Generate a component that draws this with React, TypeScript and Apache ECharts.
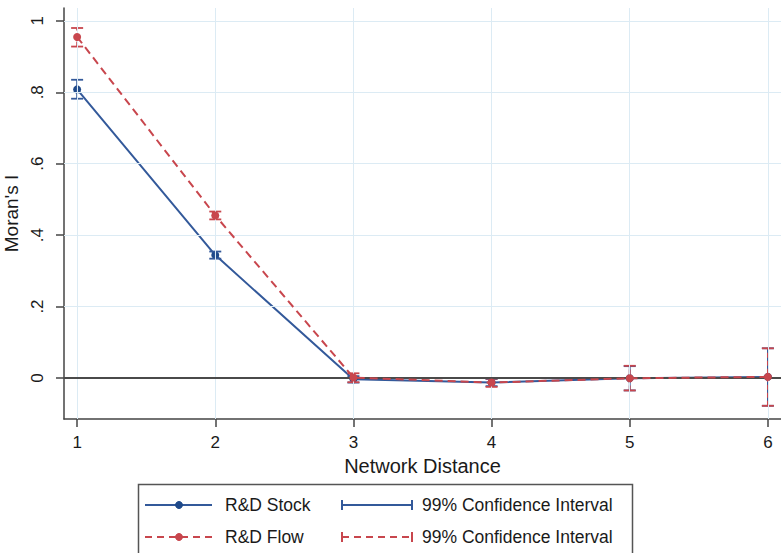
import React, { useEffect, useRef } from "react";
import * as echarts from "echarts";

const distances = [1, 2, 3, 4, 5, 6];
const stockValues = [0.808, 0.344, -0.004, -0.013, -0.001, 0.003];
const stockLower = [0.782, 0.334, -0.013, -0.023, -0.035, -0.078];
const stockUpper = [0.835, 0.354, 0.005, -0.003, 0.033, 0.083];
const flowValues = [0.955, 0.455, 0.001, -0.013, -0.001, 0.003];
const flowLower = [0.928, 0.444, -0.012, -0.025, -0.035, -0.078];
const flowUpper = [0.98, 0.466, 0.013, -0.002, 0.034, 0.083];
const yTicks = [0, 0.2, 0.4, 0.6, 0.8, 1];
const xTicks = [1, 2, 3, 4, 5, 6];
const seriesNames = ["R&D Stock", "R&D Flow"];
const ciName = "99% Confidence Interval";

const BLUE = "#33599a";
const BLUE_MARK = "#1f4a8a";
const RED = "#c8464d";
const FONT = "Liberation Sans, Arial, Helvetica, sans-serif";
const TEXT = "#1a1a1a";

function errorBars(name: string, lower: number[], upper: number[], color: string, dashed: boolean) {
  return {
    type: "custom",
    name,
    z: 4,
    data: distances.map((d, i) => [d, lower[i], upper[i]]),
    encode: { x: 0, y: [1, 2] },
    renderItem: (params: any, api: any) => {
      const x = api.value(0);
      const p1 = api.coord([x, api.value(1)]);
      const p2 = api.coord([x, api.value(2)]);
      const w = 6;
      const lw = 1.8;
      return {
        type: "group",
        children: [
          {
            type: "line",
            shape: { x1: p1[0], y1: p1[1], x2: p2[0], y2: p2[1] },
            style: { stroke: color, lineWidth: lw, lineDash: dashed ? [5, 3] : null, fill: null },
          },
          {
            type: "line",
            shape: { x1: p1[0] - w, y1: p1[1], x2: p1[0] + w, y2: p1[1] },
            style: { stroke: color, lineWidth: lw, fill: null },
          },
          {
            type: "line",
            shape: { x1: p2[0] - w, y1: p2[1], x2: p2[0] + w, y2: p2[1] },
            style: { stroke: color, lineWidth: lw, fill: null },
          },
        ],
      };
    },
  };
}

function legendGraphic() {
  const rows = [505, 537];
  const colors = [BLUE, RED];
  const items: any[] = [
    {
      type: "rect",
      shape: { x: 138.5, y: 484.5, width: 494, height: 90 },
      style: { fill: "#fff", stroke: "#555", lineWidth: 1.5 },
      z: 10,
    },
  ];
  rows.forEach((y, i) => {
    const c = colors[i];
    const dash = i === 1 ? [7, 5] : null;
    items.push({
      type: "line",
      shape: { x1: 145, y1: y, x2: 212, y2: y },
      style: { stroke: c, lineWidth: 2, lineDash: dash },
      z: 11,
    });
    items.push({
      type: "circle",
      shape: { cx: 179, cy: y, r: 3.5 },
      style: { fill: i === 0 ? BLUE_MARK : c, stroke: i === 0 ? BLUE_MARK : c },
      z: 12,
    });
    items.push({
      type: "text",
      x: 225,
      y: y,
      style: { text: seriesNames[i], fontSize: 17.5, fontFamily: FONT, fill: TEXT, verticalAlign: "middle" },
      z: 12,
    });
    items.push({
      type: "line",
      shape: { x1: 342, y1: y, x2: 412, y2: y },
      style: { stroke: c, lineWidth: 2, lineDash: dash },
      z: 11,
    });
    [342, 412].forEach((cx) =>
      items.push({
        type: "line",
        shape: { x1: cx, y1: y - 5, x2: cx, y2: y + 5 },
        style: { stroke: c, lineWidth: 2 },
        z: 11,
      })
    );
    items.push({
      type: "text",
      x: 422,
      y: y,
      style: { text: ciName, fontSize: 17.5, fontFamily: FONT, fill: TEXT, verticalAlign: "middle" },
      z: 12,
    });
  });
  return items;
}

export default function App() {
  const ref = useRef<HTMLDivElement>(null);
  useEffect(() => {
    if (!ref.current) return;
    const chart = echarts.init(ref.current, undefined, { renderer: "svg" });
    const fmtY = (v: number) => {
      const s = Number(v.toFixed(1)).toString();
      return s.replace(/^0\./, ".").replace(/^-0\./, "-.");
    };
    chart.setOption({
      animation: false,
      backgroundColor: "#fff",
      textStyle: { fontFamily: FONT },
      grid: { left: 64, right: 0, top: 8, bottom: 134, containLabel: false, outerBoundsMode: "none" },
      xAxis: {
        type: "value",
        min: 0.905,
        max: 6.095,
        name: "Network Distance",
        nameLocation: "middle",
        nameGap: 34,
        nameTextStyle: { fontSize: 20, color: TEXT, fontFamily: FONT },
        axisLine: { show: true, onZero: false, lineStyle: { color: "#444", width: 1.5 } },
        axisTick: { show: true, length: 8, customValues: xTicks, lineStyle: { color: "#444", width: 1.5 } },
        axisLabel: {
          customValues: xTicks,
          fontSize: 17,
          color: TEXT,
          margin: 15,
          fontFamily: FONT,
          formatter: (v: number) => String(v),
        },
        splitLine: { show: false },
      },
      yAxis: {
        type: "value",
        min: -0.115,
        max: 1.036,
        name: "Moran's I",
        nameLocation: "middle",
        nameGap: 38,
        nameRotate: 90,
        nameTextStyle: { fontSize: 19, color: TEXT, fontFamily: FONT },
        axisLine: { show: true, onZero: false, lineStyle: { color: "#444", width: 1.5 } },
        axisTick: { show: true, length: 8, customValues: yTicks, lineStyle: { color: "#444", width: 1.5 } },
        axisLabel: {
          customValues: yTicks,
          rotate: 90,
          fontSize: 17,
          color: TEXT,
          margin: 18,
          fontFamily: FONT,
          formatter: fmtY,
        },
        splitLine: { show: false },
      },
      series: [
        {
          type: "line",
          name: "grid",
          data: [],
          silent: true,
          z: 1,
          markLine: {
            silent: true,
            symbol: "none",
            label: { show: false },
            animation: false,
            lineStyle: { color: "#dcebf4", width: 1, type: "solid" },
            data: [
              ...xTicks.map((v) => ({ xAxis: v })),
              ...yTicks.filter((v) => v !== 0).map((v) => ({ yAxis: v })),
            ],
          },
        },
        {
          type: "line",
          name: "zero",
          data: [],
          silent: true,
          z: 2,
          markLine: {
            silent: true,
            symbol: "none",
            label: { show: false },
            animation: false,
            lineStyle: { color: "#4a4a4a", width: 1.8, type: "solid" },
            data: [{ yAxis: 0 }],
          },
        },
        {
          type: "line",
          name: seriesNames[0],
          z: 3,
          data: distances.map((d, i) => [d, stockValues[i]]),
          symbol: "circle",
          symbolSize: 8,
          showSymbol: true,
          lineStyle: { color: BLUE, width: 2 },
          itemStyle: { color: BLUE_MARK },
        },
        errorBars("stockCI", stockLower, stockUpper, BLUE, false),
        {
          type: "line",
          name: seriesNames[1],
          z: 5,
          data: distances.map((d, i) => [d, flowValues[i]]),
          symbol: "circle",
          symbolSize: 8,
          showSymbol: true,
          lineStyle: { color: RED, width: 2, type: [8, 5] },
          itemStyle: { color: RED },
        },
        errorBars("flowCI", flowLower, flowUpper, RED, true),
      ],
      graphic: legendGraphic(),
    });
    return () => chart.dispose();
  }, []);
  return (
    <div
      ref={ref}
      style={{ position: "fixed", left: 0, top: 0, width: 781, height: 553, background: "#fff" }}
    />
  );
}
